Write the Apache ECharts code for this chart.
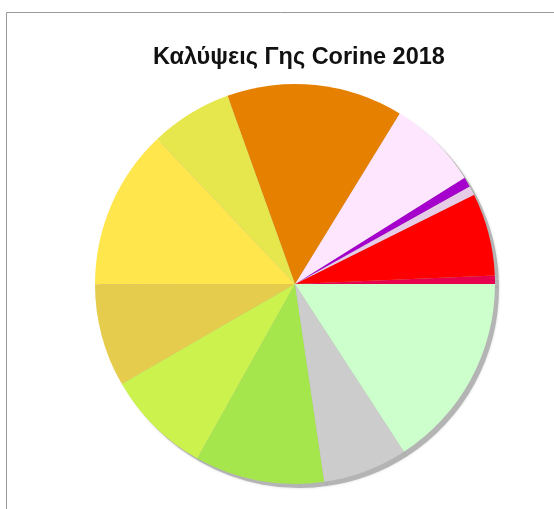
<!DOCTYPE html>
<html>
<head>
<meta charset="utf-8">
<script src="https://cdn.jsdelivr.net/npm/echarts@6/dist/echarts.min.js"></script>
<style>
html,body{margin:0;padding:0;background:#fff;}
#c{width:554px;height:509px;}
</style>
</head>
<body>
<div id="c"></div>
<script>
var titleText = 'Καλύψεις Γης Corine 2018';
var categories = [
  'Συνεχής αστική οικοδόμηση',
  'Ασυνεχής αστική οικοδόμηση',
  'Αεροδρόμια',
  'Χώροι εξόρυξης ορυκτών',
  'Εγκαταστάσεις αθλητισμού και αναψυχής',
  'Αμπελώνες',
  'Λιβάδια',
  'Σύνθετα συστήματα καλλιέργειας',
  'Γεωργία με σημαντικές εκτάσεις φυσικής βλάστησης',
  'Φυσικοί βοσκότοποι',
  'Σκληροφυλλική βλάστηση',
  'Γυμνοί βράχοι',
  'Εκτάσεις με αραιή βλάστηση'
];
var values = [0.68, 6.68, 0.75, 0.80, 7.33, 14.24, 6.61, 12.92, 8.33, 8.54, 10.46, 6.83, 15.83];
var colors = ['#e6004d', '#ff0000', '#e6cce6', '#a600cc', '#ffe6ff', '#e68000', '#e6e64d', '#ffe64d', '#e6cc4d', '#ccf24d', '#a6e64d', '#cccccc', '#ccffcc'];

var data = categories.map(function (n, i) {
  return { name: n, value: values[i], itemStyle: { color: colors[i] } };
});
var shadowData = categories.map(function (n, i) {
  return { name: n, value: values[i] };
});

var chart = echarts.init(document.getElementById('c'), null, { renderer: 'canvas' });
chart.setOption({
  animation: false,
  backgroundColor: '#ffffff',
  title: {
    text: titleText,
    left: 148,
    top: 41,
    textStyle: { fontFamily: 'Liberation Sans, Arial, sans-serif', fontWeight: 'bold', fontSize: 23.5, color: '#111' }
  },
  graphic: [{
    type: 'rect',
    shape: { x: 6.5, y: 12.5, width: 600, height: 600 },
    style: { fill: 'none', stroke: '#999', lineWidth: 1 },
    silent: true,
    z: 100
  }],
  series: [
    {
      type: 'pie',
      silent: true,
      center: [299, 288],
      radius: [0, 200],
      startAngle: 0,
      clockwise: false,
      label: { show: false },
      labelLine: { show: false },
      itemStyle: { color: '#b4b4b4', borderWidth: 0, shadowBlur: 3, shadowColor: 'rgba(0,0,0,0.15)' },
      data: shadowData,
      z: 1
    },
    {
      type: 'pie',
      center: [295, 284],
      radius: [0, 200],
      startAngle: 0,
      clockwise: false,
      label: { show: false },
      labelLine: { show: false },
      itemStyle: { borderWidth: 0 },
      emphasis: { disabled: true },
      data: data,
      z: 2
    }
  ]
});
</script>
</body>
</html>
